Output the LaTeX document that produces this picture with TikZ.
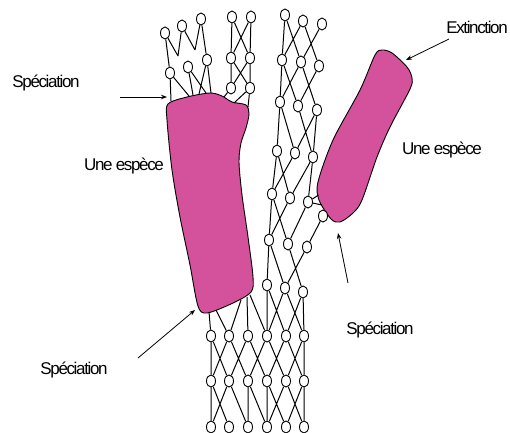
\documentclass[tikz,border=0pt]{standalone}
\usepackage{fontspec}
\newfontfamily\lab[LetterSpace=-8]{Liberation Sans}
\usetikzlibrary{shapes.geometric,arrows.meta}
\definecolor{blobcol}{HTML}{D4519C}
\begin{document}
\begin{tikzpicture}[x=1pt,y=-1pt,
 circ/.style={ellipse,draw,line width=0.9pt,minimum width=9pt,minimum height=12pt,inner sep=0pt,fill=white},
 link/.style={line width=1pt},
 blobshape/.style={fill=blobcol,draw=black,line width=0.9pt},
 lbl/.style={font=\lab\fontsize{17}{17}\selectfont,inner sep=0pt},
 arr/.style={line width=0.8pt,-{Stealth[length=6pt,width=4.5pt]}}]
\useasboundingbox (0,0) rectangle (510,432);
% blobs
\draw[blobshape] plot[smooth cycle,tension=0.5] coordinates {(168,104) (187,97) (210,93) (222,96) (232,102) (246,105) (249,114) (246,128) (241,143) (239,162) (242,195) (248,237) (253,277) (251,292) (233,303) (207,313) (198,306) (190,265) (180,217) (172,170) (167,120)};
\draw[blobshape] plot[smooth cycle,tension=0.5] coordinates {(375,55) (382,50) (392,53) (407,67) (412,78) (410,89) (390,127) (377,157) (362,200) (353,213) (340,222) (331,219) (319,200) (318,182) (333,140) (360,90)};
% trunk
\foreach \n/\x in {a/211,b/229,c/248,d/267,e/286,f/304}{
 \node[circ] (T1\n) at (\x,336) {};
 \node[circ] (T2\n) at (\x,381) {};
 \node[circ] (T3\n) at (\x,427) {};
}
% middle column
\foreach \r/\ya/\yb/\yc/\xa/\xb/\xc in {1/15/21/24/285/303/322,2/60/62/66/282/301/319,3/102/106/110/280/298/317,4/151/153/157/277/295/313,5/194/198/202/272/290/308,6/240/244/247/269/288/307,7/285/288/292/267/285/303}{
 \node[circ] (M\r a) at (\xa,\ya) {};
 \node[circ] (M\r b) at (\xb,\yb) {};
 \node[circ] (M\r c) at (\xc,\yc) {};
}
\node[circ] (ms) at (323,216) {};
% left branch
\node[circ] (L1a) at (165,33) {};
\node[circ] (L1b) at (182,26) {};
\node[circ] (L1c) at (201,19) {};
\node[circ] (L2a) at (170,73) {};
\node[circ] (L2b) at (188,67) {};
\node[circ] (L2c) at (207,60) {};
\node[circ] (RA1) at (232,17) {};
\node[circ] (RA2) at (251,17) {};
\node[circ] (RB1) at (231,58) {};
\node[circ] (RB2) at (250,58) {};
\node[circ] (RC1) at (231,88) {};
\node[circ] (RC2) at (250,88) {};
% free points
\coordinate (w1) at (178,56);
\coordinate (w2) at (195,50);
\coordinate (Q1) at (171,101);
\coordinate (Q2) at (189,96);
\coordinate (Q3) at (193,95);
\coordinate (Q4) at (206,93);
\coordinate (Q5) at (211,93);
\coordinate (Q6) at (199,94);
\coordinate (Q7) at (224,97);
\coordinate (Q8) at (234,103);
\coordinate (Q9) at (248,107);
\coordinate (P1) at (209,312);
\coordinate (P2) at (216,310);
\coordinate (P3) at (241,300);
\coordinate (P4) at (247,297);
\coordinate (P5) at (250,295);
\coordinate (S1) at (318.5,195);
\coordinate (S2) at (322,205);
% trunk links
\draw[link] (T1a)--(T2a) (T1a)--(T2b) (T1b)--(T2a) (T1b)--(T2c) (T1c)--(T2b) (T1c)--(T2d)
 (T1d)--(T2c) (T1d)--(T2e) (T1e)--(T2d) (T1e)--(T2f) (T1f)--(T2e) (T1f)--(T2f);
\draw[link] (T2a)--(T3a) (T2a)--(T3b) (T2b)--(T3a) (T2b)--(T3c) (T2c)--(T3c) (T2c)--(T3d)
 (T2d)--(T3d) (T2d)--(T3e) (T2e)--(T3d) (T2e)--(T3f) (T2f)--(T3e) (T2f)--(T3f);
\draw[link] (P1)--(T1a) (P2)--(T1b) (T1b)--(P3) (P4)--(T1c) (P5)--(T1d);
% middle links
\draw[link] (M1a)--(M2a) (M1a)--(M2b) (M1b)--(M2a) (M1b)--(M2c) (M1c)--(M2b);
\draw[link] (M2a)--(M3a) (M2a)--(M3b) (M2b)--(M3a) (M2b)--(M3c) (M2c)--(M3b);
\draw[link] (M3a)--(M4a) (M3a)--(M4b) (M3b)--(M4c) (M3c)--(M4b) (M3c)--(M4c);
\draw[link] (M4a)--(M5a) (M4a)--(M5b) (M4b)--(M5a) (M4c)--(M5b) (M4c)--(M5c);
\draw[link] (M5a)--(M6a) (M5a)--(M6b) (M5b)--(M6a) (M5c)--(M6b) (ms)--(M6c) (M5c)--(S1) (M5c)--(S2);
\draw[link] (M6a)--(M7a) (M6a)--(M7b) (M6b)--(M7c) (M6c)--(M7b);
\draw[link] (M7a)--(T1d) (M7a)--(T1e) (M7b)--(T1d) (M7b)--(T1f) (M7c)--(T1e) (M7c)--(T1f);
% left branch links
\draw[link] (L1a)--(L2a) (L1a)--(w1) (w1)--(L1b) (L1b)--(w2) (w2)--(L1c) (L1c)--(L2c);
\draw[link] (L2a)--(Q1) (L2a)--(Q2) (L2b)--(Q3) (L2b)--(Q4) (L2c)--(Q5) (L2c)--(Q6);
\draw[link] (RA1)--(RB1) (RA2)--(RB2) (RA1)--(RB2) (RA2)--(RB1);
\draw[link] (RB1)--(RC1) (RB2)--(RC2) (RB1)--(RC2) (RB2)--(RC1);
\draw[link] (RC1)--(Q7) (RC2)--(Q8) (RC2)--(Q9);
% labels
\node[lbl] (sp1) at (46,83) {Spéciation};
\node[lbl] (ue1) at (124,166) {Une espèce};
\node[lbl] (ue2) at (442,150) {Une espèce};
\node[lbl] (ext) at (477,27) {Extinction};
\node[lbl] (sp2) at (380,330) {Spéciation};
\node[lbl] (sp3) at (74,370) {Spéciation};
% arrows
\coordinate (a1s) at (120,97); \coordinate (a1e) at (167,97);
\coordinate (a2s) at (449,39); \coordinate (a2e) at (406,60);
\coordinate (a3s) at (138,358); \coordinate (a3e) at (195,310);
\coordinate (a4s) at (348,283); \coordinate (a4e) at (338,233);
\draw[arr] (a1s)--(a1e);
\draw[arr] (a2s)--(a2e);
\draw[arr] (a3s)--(a3e);
\draw[arr] (a4s)--(a4e);
\end{tikzpicture}
\end{document}
